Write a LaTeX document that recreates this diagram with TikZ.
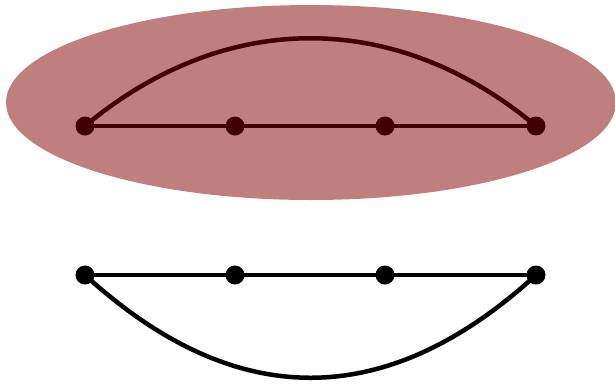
\documentclass[tikz,border=0pt]{standalone}
\begin{document}
\begin{tikzpicture}[x=1pt,y=-1pt,
  dot/.style={circle,fill=black,inner sep=0pt,minimum size=19pt},
  edge/.style={line width=4.5pt,black}]
\useasboundingbox (0,0) rectangle (615,384);
% top graph
\node[dot] (a1) at (85,126) {};
\node[dot] (a2) at (235,126) {};
\node[dot] (a3) at (385,126) {};
\node[dot] (a4) at (536,126) {};
\draw[edge] (a1.center) -- (a2.center) -- (a3.center) -- (a4.center);
\draw[edge] (a1.center) .. controls (225,9) and (396,9) .. (a4.center);
% bottom graph
\node[dot] (b1) at (85,275) {};
\node[dot] (b2) at (235,275) {};
\node[dot] (b3) at (385,275) {};
\node[dot] (b4) at (536,275) {};
\draw[edge] (b1.center) -- (b2.center) -- (b3.center) -- (b4.center);
\draw[edge] (b1.center) .. controls (235,412) and (386,412) .. (b4.center);
% ellipse overlay
\fill[fill={rgb,255:red,128;green,0;blue,0},fill opacity=0.5] (311,102.5) ellipse [x radius=305, y radius=97.5];
\end{tikzpicture}
\end{document}
